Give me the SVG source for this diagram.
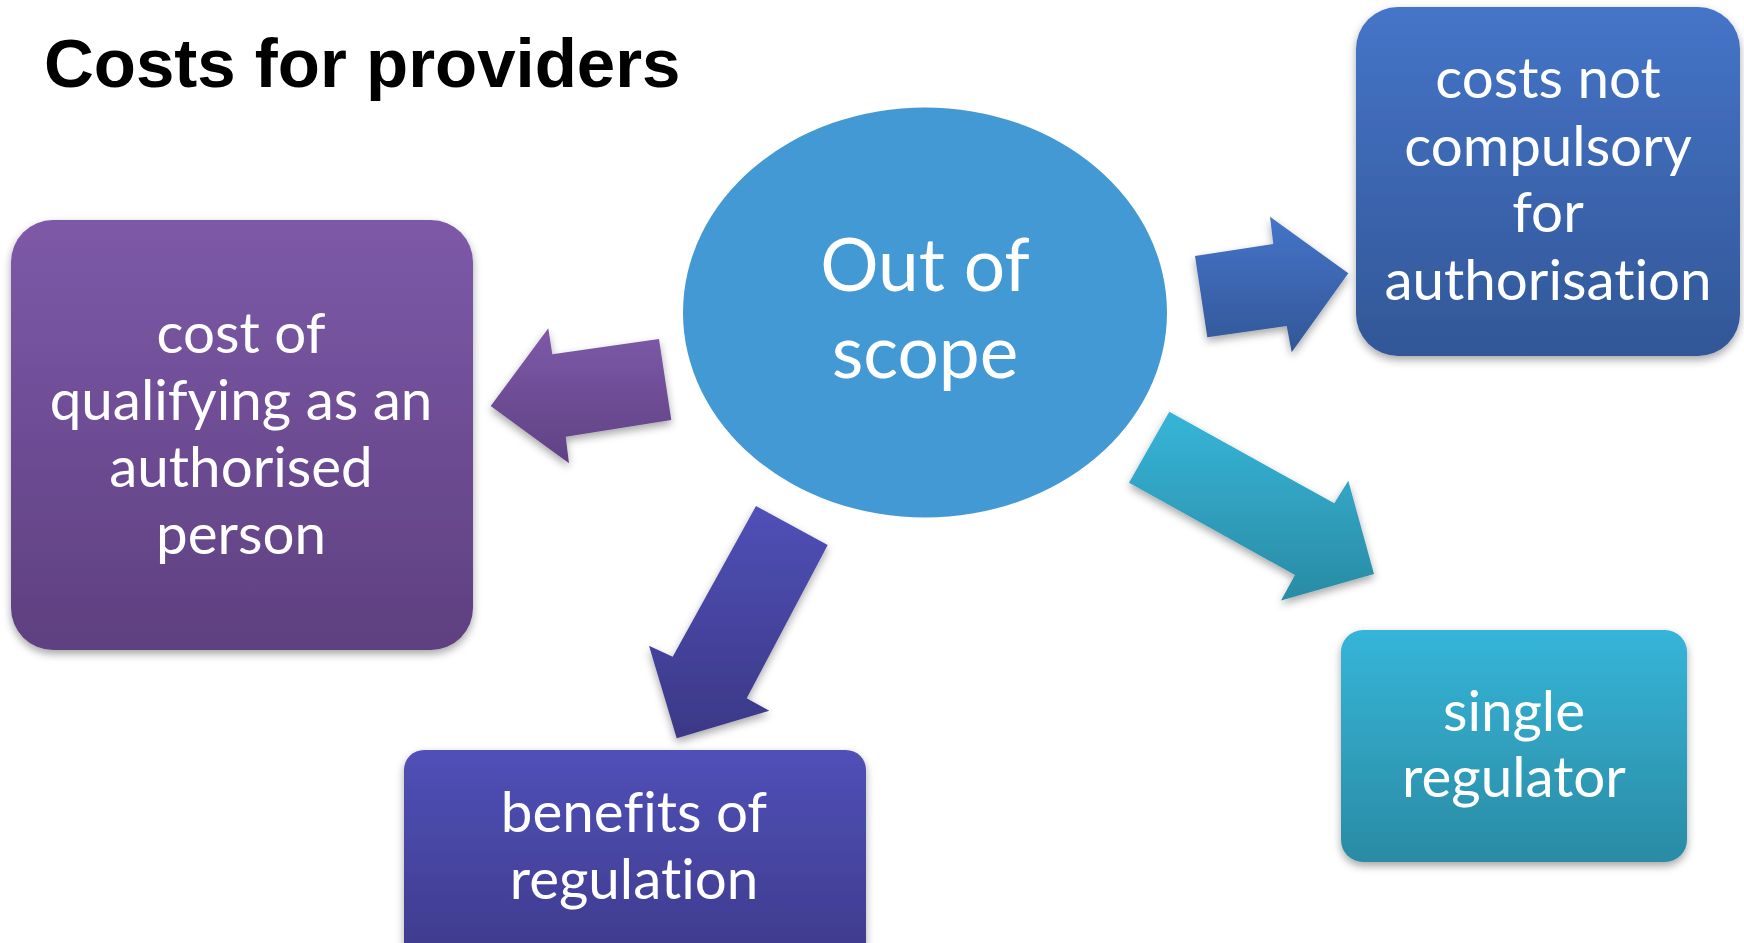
<svg xmlns="http://www.w3.org/2000/svg" width="1744" height="943" viewBox="0 0 1744 943">
<style>
.t{font-family:Lato,"Open Sans",sans-serif;fill:#fff;text-anchor:middle;font-size:56.5px;font-variant-ligatures:none;font-feature-settings:"liga" 0,"dlig" 0}
.c{font-size:73px}
.title{font-family:"Liberation Sans",Arial,sans-serif;font-weight:bold;font-size:69px;fill:#000}
</style>
<defs>
<filter id="sh" x="-10%" y="-10%" width="120%" height="125%"><feDropShadow dx="0" dy="4" stdDeviation="4" flood-color="#000" flood-opacity="0.35"/></filter>
<linearGradient id="gP" x1="0" y1="0" x2="0" y2="1"><stop offset="0" stop-color="#7D59A8"/><stop offset="1" stop-color="#5E4080"/></linearGradient>
<linearGradient id="gPa" x1="0" y1="0" x2="0" y2="1"><stop offset="0" stop-color="#7D59A8"/><stop offset="1" stop-color="#5F4283"/></linearGradient>
<linearGradient id="gB" x1="0" y1="0" x2="0" y2="1"><stop offset="0" stop-color="#4574C8"/><stop offset="1" stop-color="#325797"/></linearGradient>
<linearGradient id="gI" x1="0" y1="0" x2="0" y2="1"><stop offset="0" stop-color="#5050B8"/><stop offset="1" stop-color="#3B3886"/></linearGradient>
<linearGradient id="gT" x1="0" y1="0" x2="0" y2="1"><stop offset="0" stop-color="#36B5D8"/><stop offset="1" stop-color="#2A8BA4"/></linearGradient>
</defs>
<rect width="1744" height="943" fill="#fff"/>
<text class="title" x="44" y="87">Costs for providers</text>
<g id="connectors" filter="url(#sh)">
<polygon fill="url(#gPa)" points="490.7,406 548.3,328.3 552.3,354.3 659,339 671.3,420 565.7,436.7 569,463.3"/>
<polygon fill="url(#gB)" points="1195,256 1273.3,244 1270,216.7 1348.3,273.3 1291.7,352.3 1286.7,326 1207.3,337.3"/>
<polygon fill="url(#gT)" points="1169.3,411.7 1334.3,503.3 1348.3,480.7 1374,574 1281,600.6 1295,575 1129,482.7"/>
<polygon fill="url(#gI)" points="756,506 827.7,545 746.7,698.3 769.3,710.7 676.7,738.3 649,645.7 672.7,656.7"/>
</g>
<g id="center">
<ellipse cx="925" cy="312.5" rx="242" ry="205" fill="#4399D3"/>
<text class="t c" x="925" y="291">Out of</text>
<text class="t c" x="925" y="378">scope</text>
</g>
<g id="left">
<rect x="11" y="220" width="462" height="430" rx="42" fill="url(#gP)" filter="url(#sh)"/>
<text class="t" x="241" y="353">cost of</text>
<text class="t" x="241" y="420">qualifying as an</text>
<text class="t" x="241" y="487">authorised</text>
<text class="t" x="241" y="554">person</text>
</g>
<g id="topright">
<rect x="1356" y="7" width="384" height="349" rx="42" fill="url(#gB)" filter="url(#sh)"/>
<text class="t" x="1548" y="98">costs not</text>
<text class="t" x="1548" y="166">compulsory</text>
<text class="t" x="1548" y="232">for</text>
<text class="t" x="1548" y="300">authorisation</text>
</g>
<g id="bottom">
<rect x="404" y="750" width="462" height="240" rx="20" fill="url(#gI)" filter="url(#sh)"/>
<text class="t" x="634" y="832">benefits of</text>
<text class="t" x="634" y="899">regulation</text>
</g>
<g id="bottomright">
<rect x="1341" y="630" width="346" height="232" rx="22" fill="url(#gT)" filter="url(#sh)"/>
<text class="t" x="1514" y="731">single</text>
<text class="t" x="1514" y="797">regulator</text>
</g>
</svg>
